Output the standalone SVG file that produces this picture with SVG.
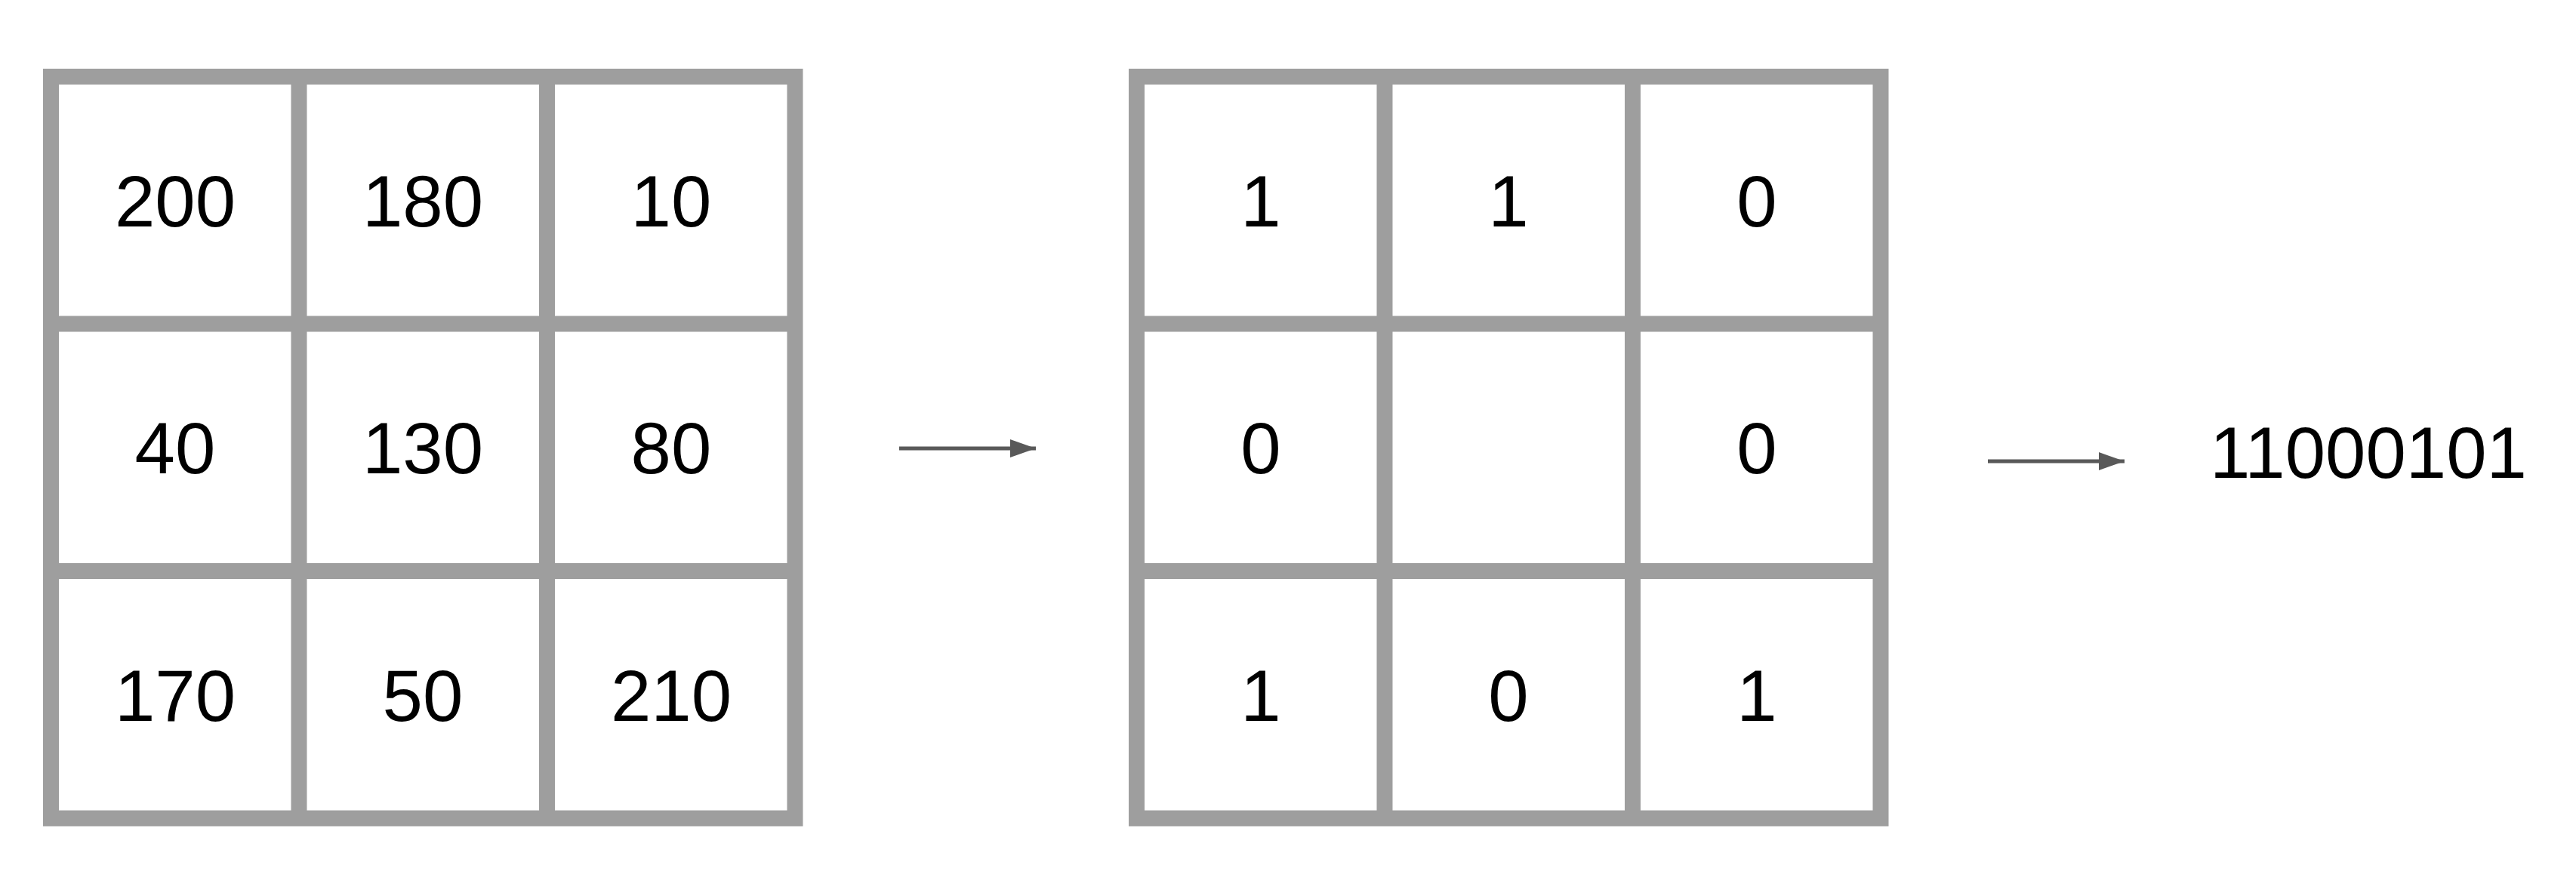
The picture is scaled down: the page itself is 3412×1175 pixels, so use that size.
<svg xmlns="http://www.w3.org/2000/svg" width="3412" height="1175" viewBox="0 0 3412 1175">
<style>
.g{fill:none;stroke:#9e9e9e;stroke-width:21;stroke-linecap:square}
text{font-family:"Liberation Sans",Arial,sans-serif;font-size:96px;fill:#000}
.c{text-anchor:middle}
.a{stroke:#595959;stroke-width:5;fill:none}
</style>
<defs><marker id="h" markerUnits="userSpaceOnUse" markerWidth="34" markerHeight="26" refX="34" refY="12" orient="auto"><path d="M0,0L34,12L0,24Z" fill="#595959"/></marker></defs>
<rect width="3412" height="1175" fill="#fff"/>
<g id="grid1">
<path class="g" d="M67.5,101.5H1053V1084H67.5Z M396,101.5V1084 M724.5,101.5V1084 M67.5,429H1053 M67.5,756.5H1053"/>
<text class="c" x="232" y="300">200</text><text class="c" x="560" y="300">180</text><text class="c" x="889" y="300">10</text>
<text class="c" x="232" y="627">40</text><text class="c" x="560" y="627">130</text><text class="c" x="889" y="627">80</text>
<text class="c" x="232" y="955">170</text><text class="c" x="560" y="955">50</text><text class="c" x="889" y="955">210</text>
</g>
<g id="grid2">
<path class="g" d="M1505.5,101.5H2491V1084H1505.5Z M1834,101.5V1084 M2162.5,101.5V1084 M1505.5,429H2491 M1505.5,756.5H2491"/>
<text class="c" x="1670" y="300">1</text><text class="c" x="1998" y="300">1</text><text class="c" x="2327" y="300">0</text>
<text class="c" x="1670" y="627">0</text><text class="c" x="2327" y="627">0</text>
<text class="c" x="1670" y="955">1</text><text class="c" x="1998" y="955">0</text><text class="c" x="2327" y="955">1</text>
</g>
<g id="result"><text x="2927" y="633">11000101</text></g>
<g id="connectors">
<line class="a" x1="1191" y1="594" x2="1372" y2="594" marker-end="url(#h)"/>
<line class="a" x1="2633" y1="611" x2="2814" y2="611" marker-end="url(#h)"/>
</g>
</svg>
